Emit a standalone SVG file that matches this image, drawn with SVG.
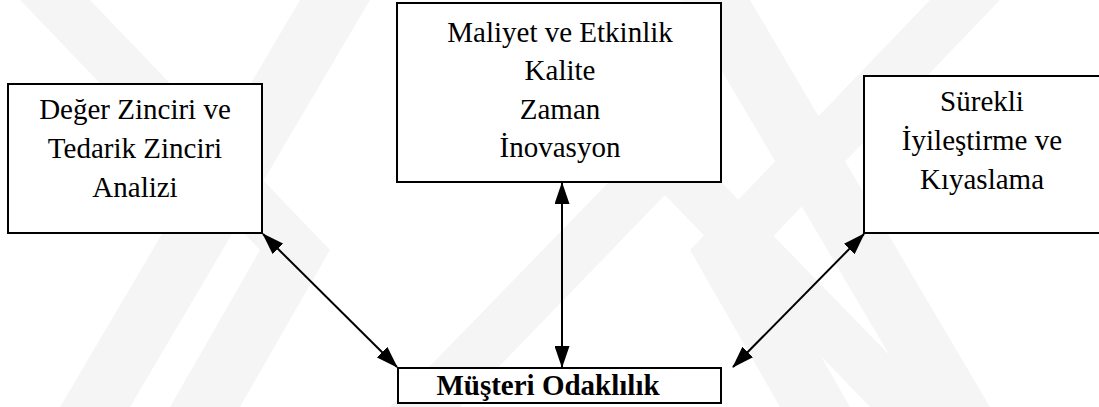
<svg xmlns="http://www.w3.org/2000/svg" width="1099" height="407" viewBox="0 0 1099 407">
<defs>
<style>
.box{fill:#ffffff;stroke:#000000;stroke-width:2}
.t{font-family:"Liberation Serif","Times New Roman",serif;font-size:29px;fill:#000;text-anchor:middle}
.b{font-weight:bold;font-size:29px}
.c{stroke:#000;stroke-width:2;fill:none;marker-start:url(#ah);marker-end:url(#ah)}
.wm{fill:#f5f5f5}
</style>
<marker id="ah" viewBox="0 0 22 15" refX="21" refY="7.5" markerWidth="22" markerHeight="15" markerUnits="userSpaceOnUse" orient="auto-start-reverse">
<path d="M0,0 L22,7.5 L0,15 Z" fill="#000"/>
</marker>
</defs>
<rect width="1099" height="407" fill="#ffffff"/>
<g id="watermark">
<polygon class="wm" points="20,0 90,0 330,250 240,407 170,407 260,250"/>
<polygon class="wm" points="300,0 370,0 130,407 60,407"/>
<polygon class="wm" points="640,150 690,150 940,407 870,407 665,195 460,407 390,407"/>
<polygon class="wm" points="930,0 1000,0 760,250 850,407 780,407 690,250"/>
<polygon class="wm" points="680,0 750,0 990,407 920,407"/>
</g>
<g id="connectors">
<line class="c" x1="263" y1="234" x2="397" y2="367"/>
<line class="c" x1="562" y1="183" x2="562" y2="367"/>
<line class="c" x1="864" y1="234" x2="733" y2="367"/>
</g>
<g id="node-deger">
<rect class="box" x="8" y="84" width="254" height="149"/>
<text class="t" x="135" y="119">Değer Zinciri ve</text>
<text class="t" x="135" y="158">Tedarik Zinciri</text>
<text class="t" x="135" y="197">Analizi</text>
</g>
<g id="node-maliyet">
<rect class="box" x="397" y="3" width="324" height="179"/>
<text class="t" x="560" y="42">Maliyet ve Etkinlik</text>
<text class="t" x="560" y="80">Kalite</text>
<text class="t" x="560" y="119">Zaman</text>
<text class="t" x="560" y="157">İnovasyon</text>
</g>
<g id="node-musteri">
<rect class="box" x="398" y="368" width="323" height="35"/>
<text class="t b" x="548" y="395">Müşteri Odaklılık</text>
</g>
<g id="node-surekli">
<rect class="box" x="864" y="76" width="240" height="157"/>
<text class="t" x="982" y="111">Sürekli</text>
<text class="t" x="982" y="150">İyileştirme ve</text>
<text class="t" x="982" y="189">Kıyaslama</text>
</g>
</svg>
